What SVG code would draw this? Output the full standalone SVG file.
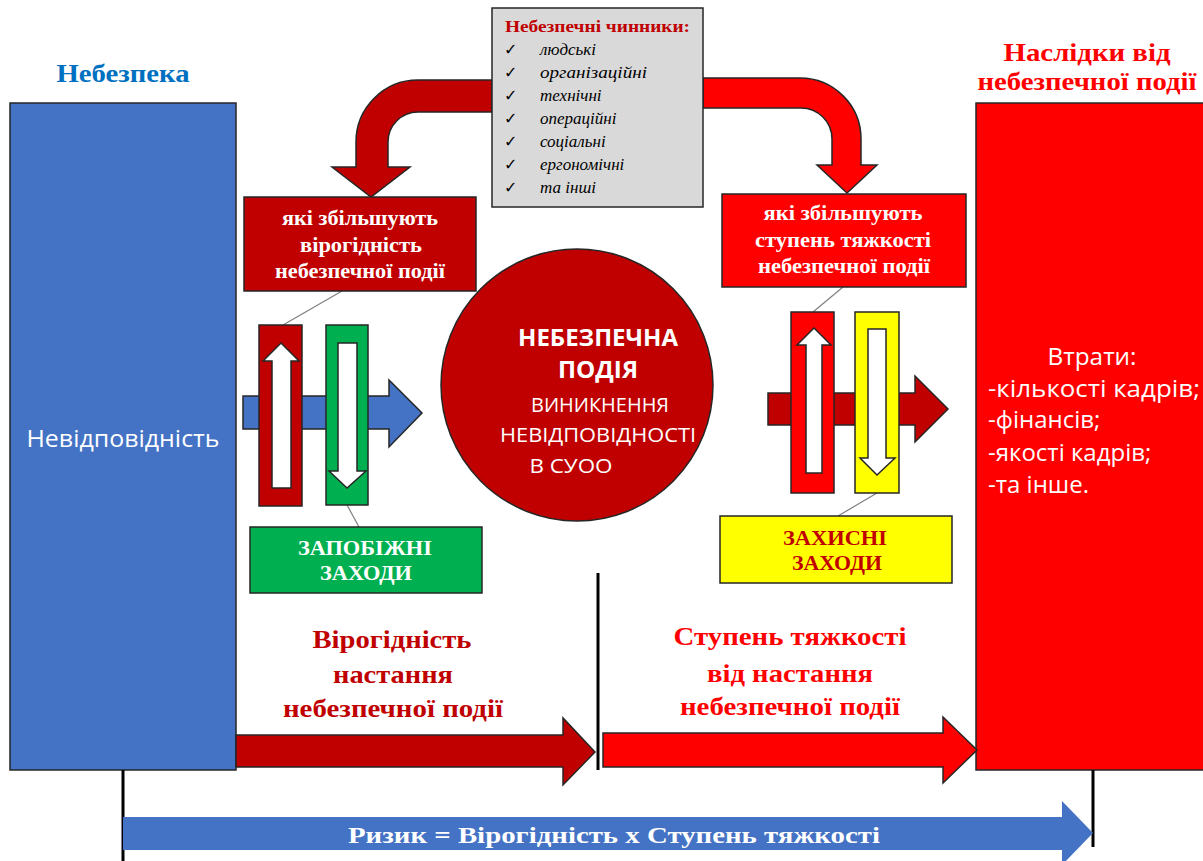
<svg xmlns="http://www.w3.org/2000/svg" width="1203" height="861" viewBox="0 0 1203 861">
<defs>
<style>
.ol{stroke:#262626;stroke-width:1.5}
.dr{fill:#C00000}
.rd{fill:#FF0000}
.bl{fill:#4472C4}
.gr{fill:#00B050}
.ye{fill:#FFFF00}
.wh{fill:#FFFFFF}
.ser{font-family:"Liberation Serif","Times New Roman",serif;font-weight:bold}
.san{font-family:"Open Sans","Liberation Sans",sans-serif}
.thin{stroke:#808080;stroke-width:1.2;fill:none}
.vline{stroke:#000;stroke-width:3}
</style>
</defs>
<rect width="1203" height="861" fill="#FFFFFF"/>

<g id="hazard">
<text x="123" y="82" class="ser" font-size="26" fill="#0070C0" text-anchor="middle" textLength="133" lengthAdjust="spacingAndGlyphs">Небезпека</text>
<rect x="10" y="103" width="226" height="667" class="bl ol"/>
<text x="123" y="447" class="san" font-size="23" fill="#FFFFFF" text-anchor="middle" textLength="193" lengthAdjust="spacingAndGlyphs">Невідповідність</text>
</g>

<g id="consequences">
<text x="1087" y="61" class="ser" font-size="26" fill="#FF0000" text-anchor="middle" textLength="167" lengthAdjust="spacingAndGlyphs">Наслідки від</text>
<text x="1087" y="90" class="ser" font-size="26" fill="#FF0000" text-anchor="middle" textLength="219" lengthAdjust="spacingAndGlyphs">небезпечної події</text>
<rect x="976" y="103" width="240" height="667" class="rd ol"/>
<g class="san" font-size="24" fill="#FFFFFF">
<text x="1092" y="365" text-anchor="middle" textLength="89" lengthAdjust="spacingAndGlyphs">Втрати:</text>
<text x="988" y="397" textLength="212" lengthAdjust="spacingAndGlyphs">-кількості кадрів;</text>
<text x="988" y="428">-фінансів;</text>
<text x="988" y="461">-якості кадрів;</text>
<text x="988" y="493">-та інше.</text>
</g>
</g>

<g id="connectors">
<path d="M 492 80 L 418 80 A 62 62 0 0 0 356 142 L 356 167 L 332 167 L 371 197 L 410 167 L 388 167 L 388 142 A 30 30 0 0 1 418 112 L 492 112 Z" class="dr ol"/>
<path d="M 703 78 L 800 78 A 61 61 0 0 1 861 139 L 861 165 L 877 165 L 847 193 L 817 165 L 832 165 L 832 139 A 31 31 0 0 0 801 108 L 703 108 Z" class="rd ol"/>
<line x1="342" y1="291" x2="283" y2="325" class="thin"/>
<line x1="347" y1="505" x2="359" y2="527" class="thin"/>
<line x1="843" y1="287" x2="813" y2="312" class="thin"/>
<line x1="877" y1="493" x2="838" y2="516" class="thin"/>
</g>

<g id="factors">
<rect x="492" y="8" width="211" height="199" fill="#D9D9D9" class="ol"/>
<text x="505" y="32" class="ser" font-size="17" fill="#C00000" textLength="185" lengthAdjust="spacingAndGlyphs">Небезпечні чинники:</text>
<g font-family="DejaVu Sans,sans-serif" font-size="16" fill="#000">
<text x="504" y="55">✓</text>
<text x="504" y="78">✓</text>
<text x="504" y="101">✓</text>
<text x="504" y="124">✓</text>
<text x="504" y="147">✓</text>
<text x="504" y="170">✓</text>
<text x="504" y="193">✓</text>
</g>
<g font-family="Liberation Serif,Times New Roman,serif" font-style="italic" font-size="17" fill="#000">
<text x="540" y="55">людські</text>
<text x="540" y="78" textLength="107" lengthAdjust="spacingAndGlyphs">організаційні</text>
<text x="540" y="101">технічні</text>
<text x="540" y="124">операційні</text>
<text x="540" y="147">соціальні</text>
<text x="540" y="170">ергономічні</text>
<text x="540" y="193">та інші</text>
</g>
</g>

<g id="prob-factors">
<rect x="244" y="197" width="232" height="94" class="dr ol"/>
<g class="ser" font-size="21" fill="#FFFFFF" text-anchor="middle">
<text x="360" y="225" textLength="156" lengthAdjust="spacingAndGlyphs">які збільшують</text>
<text x="361" y="252" textLength="122" lengthAdjust="spacingAndGlyphs">вірогідність</text>
<text x="360" y="278" textLength="170" lengthAdjust="spacingAndGlyphs">небезпечної події</text>
</g>
</g>

<g id="sev-factors">
<rect x="722" y="194" width="244" height="93" class="rd ol"/>
<g class="ser" font-size="21" fill="#FFFFFF" text-anchor="middle">
<text x="843" y="220" textLength="159" lengthAdjust="spacingAndGlyphs">які збільшують</text>
<text x="843" y="247" textLength="176" lengthAdjust="spacingAndGlyphs">ступень тяжкості</text>
<text x="844" y="273" textLength="172" lengthAdjust="spacingAndGlyphs">небезпечної події</text>
</g>
</g>

<g id="prevention">
<polygon points="243,396 389,396 389,380 422,413 389,447 389,429 243,429" class="bl ol"/>
<rect x="259" y="325" width="43" height="181" class="dr ol"/>
<polygon points="272,488 272,361 263,361 281,343 299,361 291,361 291,488" class="wh ol"/>
<rect x="326" y="325" width="42" height="180" class="gr ol"/>
<polygon points="338,343 357,343 357,471 366,471 347,488 329,471 338,471" class="wh ol"/>
</g>

<g id="prevention-label">
<rect x="250" y="527" width="232" height="66" class="gr ol"/>
<g class="ser" font-size="21" fill="#FFFFFF" text-anchor="middle">
<text x="365" y="555" textLength="134" lengthAdjust="spacingAndGlyphs">ЗАПОБІЖНІ</text>
<text x="366" y="580" textLength="92" lengthAdjust="spacingAndGlyphs">ЗАХОДИ</text>
</g>
</g>

<g id="event">
<circle cx="577" cy="385" r="136" class="dr ol"/>
<g class="san" fill="#FFFFFF" text-anchor="middle">
<text x="598" y="346" font-size="23" font-weight="bold" textLength="160" lengthAdjust="spacingAndGlyphs">НЕБЕЗПЕЧНА</text>
<text x="598" y="378" font-size="23" font-weight="bold" textLength="80" lengthAdjust="spacingAndGlyphs">ПОДІЯ</text>
<text x="600" y="412" font-size="20" textLength="138" lengthAdjust="spacingAndGlyphs">ВИНИКНЕННЯ</text>
<text x="598" y="442" font-size="20" textLength="196" lengthAdjust="spacingAndGlyphs">НЕВІДПОВІДНОСТІ</text>
<text x="571" y="473" font-size="20" textLength="83" lengthAdjust="spacingAndGlyphs">В СУОО</text>
</g>
</g>

<g id="protection">
<polygon points="768,393 915,393 915,376 948,409 915,442 915,425 768,425" class="dr ol"/>
<rect x="791" y="312" width="43" height="181" class="rd ol"/>
<polygon points="806,473 806,345 797,345 814,328 831,345 822,345 822,473" class="wh ol"/>
<rect x="855" y="312" width="44" height="181" class="ye ol"/>
<polygon points="868,329 886,329 886,458 895,458 877,475 860,458 868,458" class="wh ol"/>
</g>

<g id="protection-label">
<rect x="720" y="516" width="232" height="67" class="ye ol"/>
<g class="ser" font-size="21" fill="#C00000" text-anchor="middle">
<text x="835" y="545" textLength="104" lengthAdjust="spacingAndGlyphs">ЗАХИСНІ</text>
<text x="837" y="570" textLength="90" lengthAdjust="spacingAndGlyphs">ЗАХОДИ</text>
</g>
</g>

<g id="probability">
<g class="ser" font-size="26" fill="#C00000" text-anchor="middle">
<text x="392" y="648" textLength="159" lengthAdjust="spacingAndGlyphs">Вірогідність</text>
<text x="393" y="683" textLength="120" lengthAdjust="spacingAndGlyphs">настання</text>
<text x="393" y="717" textLength="220" lengthAdjust="spacingAndGlyphs">небезпечної події</text>
</g>
<polygon points="236,735 563,735 563,718 595,752 563,785 563,767 236,767" class="dr ol"/>
</g>

<g id="severity">
<g class="ser" font-size="26" fill="#FF0000" text-anchor="middle">
<text x="790" y="645" textLength="233" lengthAdjust="spacingAndGlyphs">Ступень тяжкості</text>
<text x="790" y="682" textLength="166" lengthAdjust="spacingAndGlyphs">від настання</text>
<text x="790" y="715" textLength="220" lengthAdjust="spacingAndGlyphs">небезпечної події</text>
</g>
<polygon points="603,733 943,733 943,717 977,750 943,783 943,767 603,767" class="rd ol"/>
</g>

<g id="dividers">
<line x1="598" y1="573" x2="598" y2="770" class="vline"/>
<line x1="123" y1="770" x2="123" y2="861" class="vline"/>
<line x1="1093" y1="770" x2="1093" y2="847" class="vline"/>
</g>

<g id="risk">
<polygon points="123,817 1062,817 1062,801 1093,833 1062,865 1062,850 123,850" class="bl"/>
<text x="614" y="843" class="ser" font-size="24" fill="#FFFFFF" text-anchor="middle" textLength="532" lengthAdjust="spacingAndGlyphs">Ризик = Вірогідність х Ступень тяжкості</text>
</g>
</svg>
